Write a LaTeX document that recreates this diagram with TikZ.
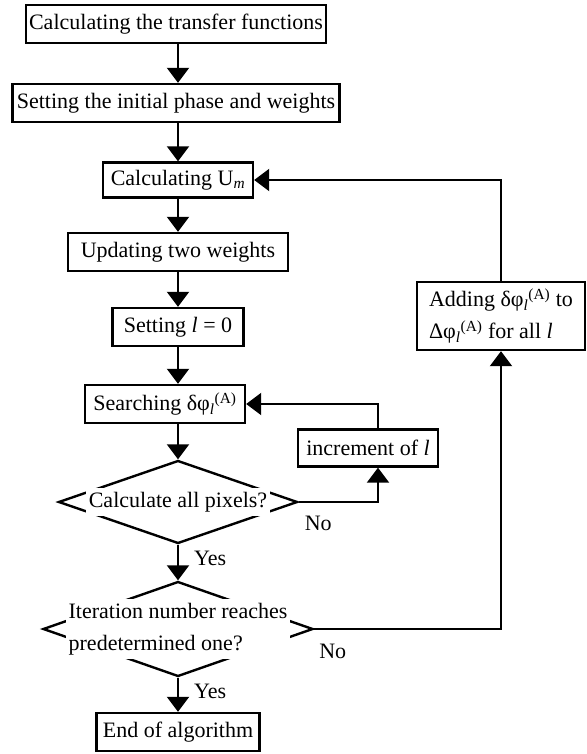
\documentclass[tikz,border=0pt]{standalone}
\usepackage{fontspec}
\setmainfont{Liberation Serif}
\usepackage{tikz}
\usetikzlibrary{shapes.geometric, arrows.meta, positioning, calc}
\newcommand{\dphiA}{φ\textsubscript{\textit{l}}\textsuperscript{(A)}}

\begin{document}
\begin{tikzpicture}[
    x=1pt, y=-1pt,
    font=\fontsize{22}{32}\selectfont,
    proc/.style={draw, line width=2.4pt, minimum height=38pt, inner sep=2pt, align=center},
    decis/.style={draw, diamond, line width=2.4pt, inner sep=0pt},
    decistxt/.style={fill=white, inner xsep=3pt, inner ysep=4pt, align=left},
    fluxo/.style={draw, line width=2.2pt, -{Triangle[width=22pt, length=15pt]}},
    rot/.style={inner sep=0pt}
]
    \useasboundingbox (0,0) rectangle (586,754);

    \node[proc, minimum width=300pt] (calc) at (176, 24) {Calculating the transfer functions};
    \node[proc, minimum width=327pt] (init) at (176, 103) {Setting the initial phase and weights};
    \node[proc, minimum width=150pt, minimum height=35pt] (um) at (178, 180) {Calculating U\textsubscript{\textit{m}}};
    \node[proc, minimum width=220pt] (upd) at (178, 252) {Updating two weights};
    \node[proc, minimum width=131pt] (setl) at (178, 327) {Setting \textit{l} = 0};
    \node[proc, minimum width=160pt] (search) at (165, 404) {Searching δ\dphiA};
    \node[proc, minimum width=140pt, minimum height=37pt] (incr) at (368, 448) {increment of \textit{l}};
    \node[proc, minimum width=168pt, minimum height=68pt, align=left] (adding) at (501, 316) {Adding δ\dphiA{} to\\Δ\dphiA{} for all \textit{l}};

    \node[decis, minimum width=239pt, minimum height=83pt] (dec1) at (178, 502) {};
    \node[decistxt] (dec1txt) at (dec1) {Calculate all pixels?};
    \node[decis, minimum width=270pt, minimum height=95pt] (dec2) at (178, 629) {};
    \node[decistxt] (dec2txt) at (dec2) {Iteration number reaches\\predetermined one?};

    \node[proc, minimum width=163pt] (endalg) at (178, 732) {End of algorithm};

    \draw[fluxo] (calc.south -| um) -- (init.north -| um);
    \draw[fluxo] (init.south -| um) -- (um.north);
    \draw[fluxo] (um) -- (upd);
    \draw[fluxo] (upd) -- (setl);
    \draw[fluxo] (setl.south) -- (setl.south |- search.north);
    \draw[fluxo] (search.south -| dec1) -- (dec1.north);
    \draw[fluxo] (dec1.south) node[rot, anchor=north west, xshift=15pt, yshift=-5pt] (yes1) {Yes} -- (dec2.north);
    \draw[fluxo] (dec2.south) node[rot, anchor=north west, xshift=15pt, yshift=-5pt] (yes2) {Yes} -- (endalg.north);

    \draw[fluxo] (dec1.east) node[rot, anchor=north west, xshift=5pt, yshift=-13pt] (no1) {No} -| ($(incr.south)+(10,0)$);
    \draw[fluxo] ($(incr.north)+(10,0)$) |- (search.east);
    \draw[fluxo] (dec2.east) node[rot, anchor=north west, xshift=4pt, yshift=-14pt] (no2) {No} -| (adding.south);
    \draw[fluxo] (adding.north) |- (um.east);
\end{tikzpicture}
\end{document}
